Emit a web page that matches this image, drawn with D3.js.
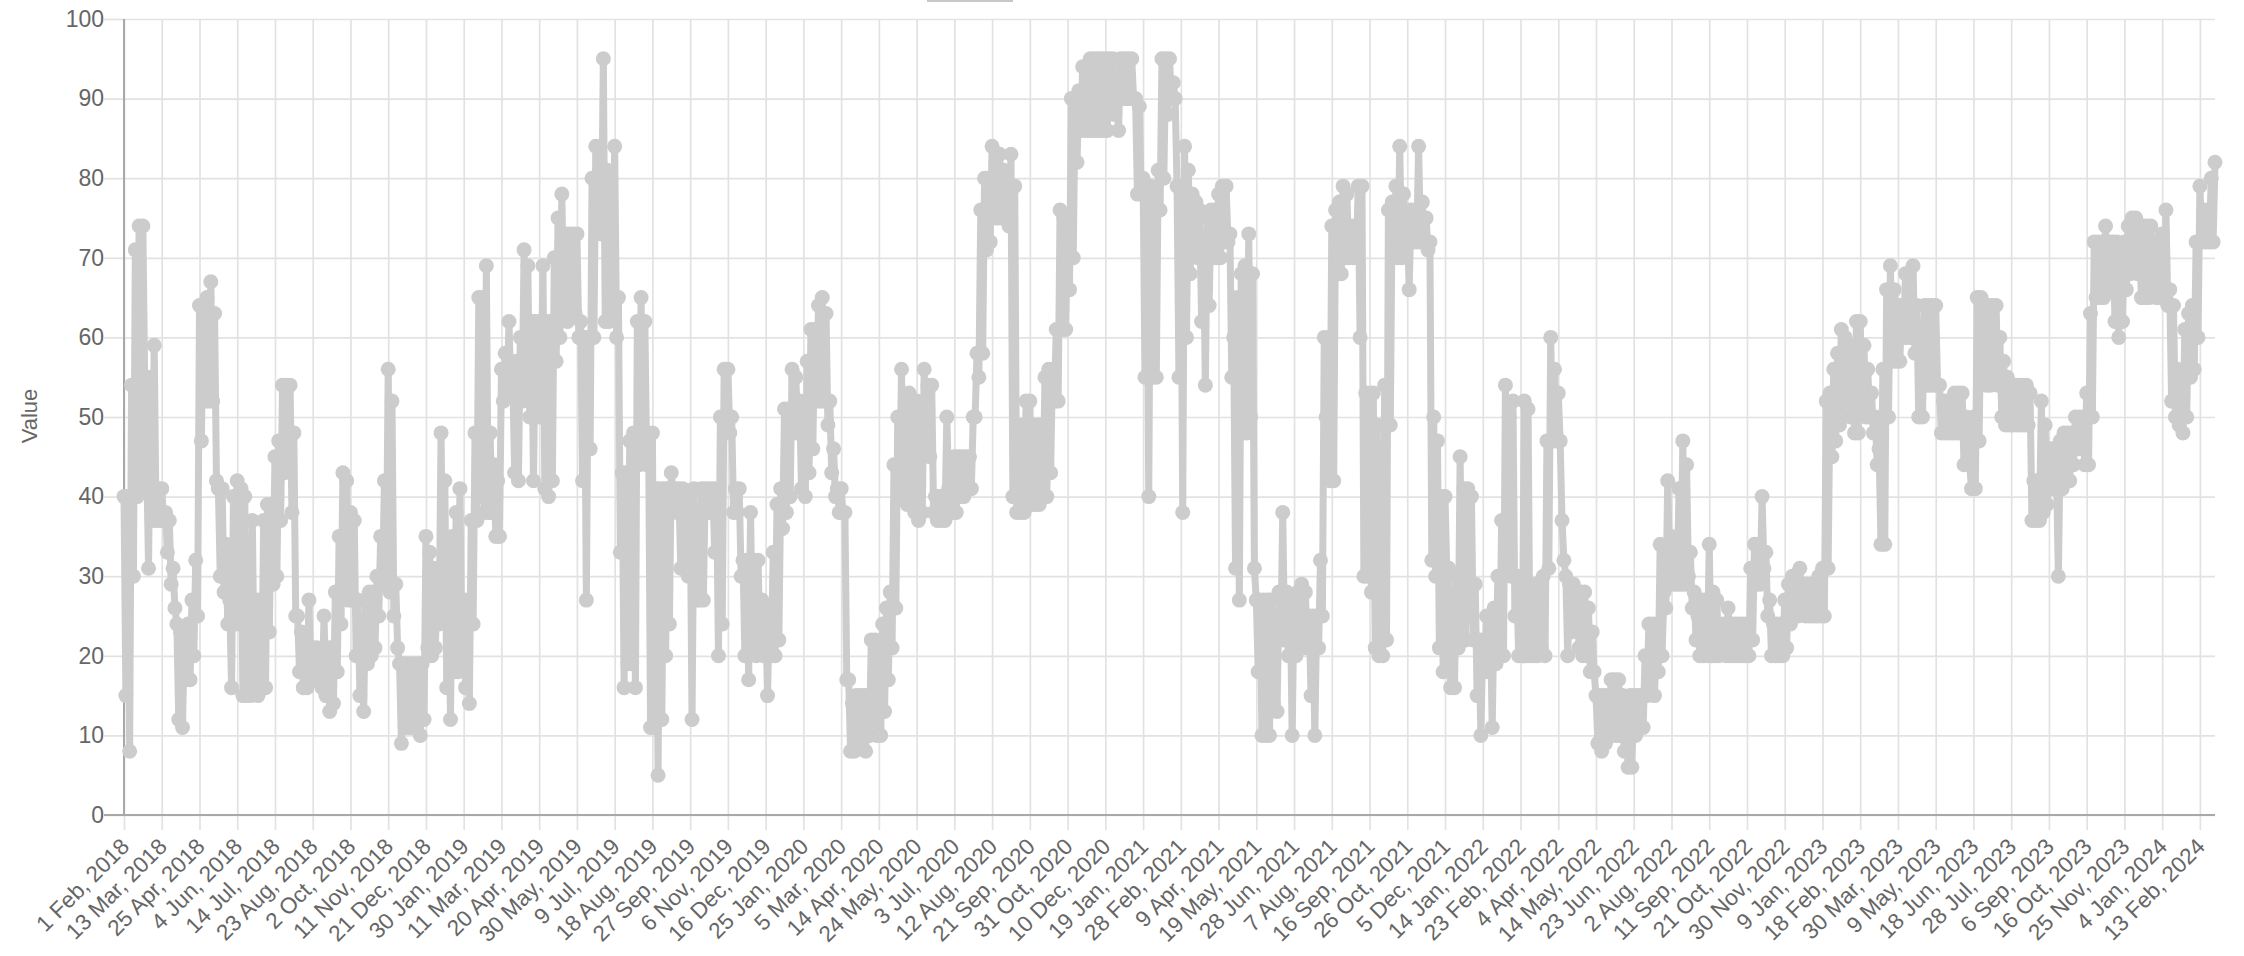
<!DOCTYPE html>
<html>
<head>
<meta charset="utf-8">
<script src="https://cdn.jsdelivr.net/npm/d3@7"></script>
<style>
html,body{margin:0;padding:0;background:#fff;overflow:hidden}
svg{display:block}
text{font-family:"Liberation Sans",Arial,sans-serif;fill:#666}
</style>
</head>
<body>
<svg id="chart" width="2244" height="956"></svg>
<script>
// Tick labels, one every 40 records of the series
const tickLabels = ["1 Feb, 2018","13 Mar, 2018","25 Apr, 2018","4 Jun, 2018","14 Jul, 2018","23 Aug, 2018","2 Oct, 2018","11 Nov, 2018","21 Dec, 2018","30 Jan, 2019","11 Mar, 2019","20 Apr, 2019","30 May, 2019","9 Jul, 2019","18 Aug, 2019","27 Sep, 2019","6 Nov, 2019","16 Dec, 2019","25 Jan, 2020","5 Mar, 2020","14 Apr, 2020","24 May, 2020","3 Jul, 2020","12 Aug, 2020","21 Sep, 2020","31 Oct, 2020","10 Dec, 2020","19 Jan, 2021","28 Feb, 2021","9 Apr, 2021","19 May, 2021","28 Jun, 2021","7 Aug, 2021","16 Sep, 2021","26 Oct, 2021","5 Dec, 2021","14 Jan, 2022","23 Feb, 2022","4 Apr, 2022","14 May, 2022","23 Jun, 2022","2 Aug, 2022","11 Sep, 2022","21 Oct, 2022","30 Nov, 2022","9 Jan, 2023","18 Feb, 2023","30 Mar, 2023","9 May, 2023","18 Jun, 2023","28 Jul, 2023","6 Sep, 2023","16 Oct, 2023","25 Nov, 2023","4 Jan, 2024","13 Feb, 2024"];
const recordsPerTick = 40;
const recordsPerReading = 2;
const yTicks = [0,10,20,30,40,50,60,70,80,90,100];
const seriesName = "Value";
// Highest and lowest value in each run of 4 records, one row per tick interval
const highs = [
40,40,54,71,74,74,45,55,59,41,
41,38,37,31,24,23,23,24,27,32,
64,64,65,67,63,41,41,34,27,40,
42,41,40,27,37,27,27,37,39,39,
45,47,54,54,54,48,25,23,21,27,
21,21,20,25,21,21,28,35,43,42,
38,37,27,20,27,28,28,30,35,42,
56,52,29,19,19,19,19,19,19,19,
35,33,31,31,48,42,30,35,38,41,
27,27,37,48,65,65,69,48,44,42,
56,58,62,55,57,60,71,69,62,62,
62,69,62,62,70,75,78,73,73,73,
73,62,60,60,80,84,80,95,81,80,
84,65,43,43,47,48,62,65,62,47,
48,41,41,41,41,43,41,41,41,40,
40,41,38,41,41,41,41,41,50,56,
56,50,41,41,32,32,38,32,32,27,
26,26,33,39,41,51,51,56,55,52,
51,57,61,61,64,65,63,52,46,41,
41,38,17,14,15,15,15,15,22,22,
20,24,26,28,44,50,56,52,53,52,
52,50,56,54,54,40,40,40,50,43,
45,45,45,45,45,50,58,76,80,80,
84,82,83,81,78,83,79,42,49,52,
52,49,49,49,55,56,56,61,76,75,
74,90,90,91,94,94,95,95,95,95,
95,95,95,90,95,95,95,95,90,89,
80,79,79,78,81,95,95,95,92,79,
79,84,81,78,77,76,72,75,76,76,
78,79,79,73,60,65,68,69,73,68,
27,27,27,27,27,25,28,38,28,27,
27,28,29,28,25,25,25,32,60,60,
74,76,77,79,78,74,74,79,79,53,
53,53,49,34,54,76,77,79,84,78,
75,76,76,84,77,75,72,50,47,40,
40,31,21,30,45,41,41,40,29,22,
22,25,25,26,30,37,54,50,52,30,
30,52,51,28,29,29,30,47,60,56,
53,37,30,29,29,28,28,28,26,23,
15,15,15,15,17,17,17,15,12,15,
15,15,15,20,24,24,24,34,28,42,
35,34,41,47,44,33,28,25,27,27,
34,28,27,24,24,26,24,24,24,24,
24,31,34,34,40,33,27,24,24,24,
27,29,30,30,31,29,29,29,29,30,
31,52,53,56,58,61,60,59,56,62,
62,59,56,53,50,46,56,66,69,66,
64,64,68,68,69,64,60,64,64,64,
64,54,52,52,52,53,53,53,50,44,
50,65,65,64,64,64,64,60,57,55,
54,54,54,54,54,53,42,42,52,49,
46,46,43,47,48,48,48,50,50,50,
53,63,72,72,72,74,72,72,72,71,
72,74,75,75,73,74,74,74,72,72,
73,76,66,64,56,55,61,63,64,72,
79,76,76,80,82
];
const lows = [
15,8,30,40,41,54,31,37,37,37,
37,33,29,26,12,11,17,17,20,25,
47,52,52,52,42,30,28,24,16,24,
24,15,15,15,17,15,16,16,23,29,
30,37,43,45,38,25,18,16,16,17,
17,17,16,15,13,14,18,24,31,27,
27,20,15,13,19,20,21,25,29,30,
28,25,21,9,11,11,11,11,10,12,
21,20,21,24,28,16,12,18,18,19,
16,14,24,37,40,38,38,38,35,35,
52,53,53,43,42,52,58,50,42,50,
50,41,40,42,57,60,63,62,63,63,
60,42,27,46,60,79,73,62,62,63,
60,33,16,19,19,16,44,45,44,11,
11,5,12,20,24,40,38,31,31,30,
12,27,27,27,38,38,33,20,24,48,
48,38,38,30,20,17,22,20,21,20,
15,20,20,22,36,38,40,48,48,41,
40,43,46,52,52,52,49,43,40,38,
38,17,8,8,9,10,8,10,12,10,
10,13,17,21,26,40,40,39,39,38,
37,38,46,45,38,37,37,37,41,38,
38,40,40,41,41,50,55,58,71,72,
75,75,75,75,74,40,38,38,38,39,
39,39,39,40,40,43,52,52,61,61,
66,70,82,86,86,86,86,86,86,86,
86,90,88,86,90,90,90,90,78,78,
55,40,55,55,76,80,88,90,90,55,
38,60,68,71,70,62,54,64,70,70,
70,72,72,55,31,27,48,48,50,31,
18,10,10,10,14,13,22,22,20,10,
20,21,21,21,15,10,21,25,50,42,
42,68,68,70,70,70,70,60,30,30,
28,21,20,20,22,49,70,70,70,72,
66,72,72,72,72,71,32,30,21,18,
30,16,16,21,22,22,25,22,15,10,
18,18,11,19,20,20,33,30,25,20,
20,20,20,20,20,21,20,31,47,47,
47,32,20,23,24,21,20,20,18,18,
9,8,9,10,10,10,10,8,6,6,
10,11,11,15,17,15,18,20,26,31,
29,29,29,29,30,26,22,20,20,20,
20,20,20,21,20,20,20,20,20,20,
20,22,29,29,31,25,20,20,20,20,
21,24,25,25,26,25,25,25,25,25,
25,31,45,47,49,50,52,50,48,48,
52,50,50,48,44,34,34,50,57,57,
57,60,60,60,58,50,50,54,54,54,
54,48,48,48,48,48,48,44,44,41,
41,47,55,54,54,56,54,50,49,49,
49,49,49,49,49,37,37,37,38,39,
41,41,30,41,42,42,44,46,46,44,
44,50,65,65,65,66,66,62,60,62,
66,68,70,68,65,65,65,67,65,65,
65,64,52,50,49,48,50,55,56,60,
72,72,72,72
];
// The line runs high, low, high, low through the readings
const values = d3.merge(highs.map((h, i) => i < lows.length ? [h, lows[i]] : [h]));

const svg = d3.select("#chart");
const recordOf = i => i * recordsPerReading;
const tickRecords = tickLabels.map((_, i) => i * recordsPerTick);
const x = d3.scaleLinear().domain([0, recordOf(values.length - 1)]).range([124, 2215]);
const y = d3.scaleLinear().domain([0, 100]).range([815, 19]);
const GRID = "#e2e2e2", AXIS = "#a8a8a8", MARK = "#cccccc";

// Legend swatch clipped by the top edge
svg.append("rect").attr("x",927).attr("y",-10).attr("width",86).attr("height",12).attr("fill","#c8c8c8");

// Y axis with grid
const gy = svg.append("g").attr("transform","translate(124,0)")
  .call(d3.axisLeft(y).tickValues(yTicks).tickSize(20).tickPadding(-2));
gy.select(".domain").remove();
gy.selectAll(".tick line").attr("stroke",GRID).attr("stroke-width",1.7).clone().attr("x1",0).attr("x2",2091);
gy.selectAll(".tick text").attr("font-size",23).attr("fill","#666").attr("dx",-2);

// X axis with grid
const gx = svg.append("g").attr("transform","translate(0,815)")
  .call(d3.axisBottom(x).tickValues(tickRecords).tickFormat((d,i)=>tickLabels[i]).tickSize(15));
gx.select(".domain").remove();
gx.selectAll(".tick line").attr("stroke",GRID).attr("stroke-width",1.7).clone().attr("y1",0).attr("y2",-796);
gx.selectAll(".tick text")
  .attr("font-size",22.5).attr("fill","#666")
  .attr("text-anchor","end")
  .attr("y",0).attr("dy",0)
  .attr("transform","translate(6,33) rotate(-45)");

// Axis lines
svg.append("line").attr("x1",124).attr("x2",124).attr("y1",19).attr("y2",815).attr("stroke",AXIS).attr("stroke-width",2);
svg.append("line").attr("x1",104).attr("x2",2215).attr("y1",815).attr("y2",815).attr("stroke",AXIS).attr("stroke-width",2);

// Axis title
svg.append("text").attr("transform","translate(37,416) rotate(-90)")
  .attr("text-anchor","middle").attr("font-size",22).text(seriesName);

// Series
const line = d3.line().x((d,i)=>x(recordOf(i))).y(d=>y(d));
svg.append("path").datum(values).attr("d",line).attr("fill","none").attr("stroke",MARK).attr("stroke-width",7).attr("stroke-linejoin","round");
svg.append("g").selectAll("circle").data(values).join("circle")
  .attr("cx",(d,i)=>x(recordOf(i))).attr("cy",d=>y(d)).attr("r",7.5).attr("fill",MARK);
</script>
</body>
</html>
